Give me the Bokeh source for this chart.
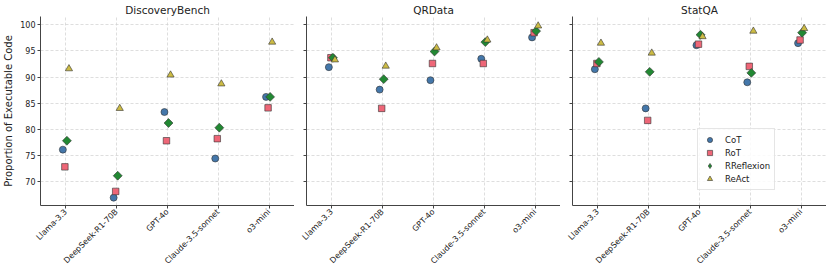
import math
from bokeh.plotting import figure
from bokeh.models import ColumnDataSource, FactorRange, Range1d, Legend, LegendItem, FixedTicker
from bokeh.transform import dodge
from bokeh.layouts import row
from bokeh.embed import file_html
from bokeh.resources import INLINE

models = ["Llama-3.3", "DeepSeek-R1-70B", "GPT-4o", "Claude-3.5-sonnet", "o3-mini"]
methods = ["CoT", "RoT", "RReflexion", "ReAct"]
benchmarks = ["DiscoveryBench", "QRData", "StatQA"]

discovery_cot = [76.1, 66.9, 83.3, 74.4, 86.2]
discovery_rot = [72.8, 68.1, 77.8, 78.2, 84.1]
discovery_rreflexion = [77.8, 71.1, 81.2, 80.3, 86.2]
discovery_react = [91.6, 84.0, 90.4, 88.7, 96.7]

qrdata_cot = [91.9, 87.6, 89.4, 93.5, 97.6]
qrdata_rot = [93.7, 84.0, 92.6, 92.6, 98.5]
qrdata_rreflexion = [93.7, 89.6, 94.9, 96.7, 98.8]
qrdata_react = [93.3, 92.1, 95.6, 97.1, 99.8]

statqa_cot = [91.5, 84.0, 96.1, 89.0, 96.5]
statqa_rot = [92.6, 81.7, 96.3, 92.05, 97.1]
statqa_rreflexion = [92.9, 91.0, 98.1, 90.8, 98.5]
statqa_react = [96.5, 94.6, 97.75, 98.8, 99.3]

y_ticks = [70, 75, 80, 85, 90, 95, 100]

data = {
    "DiscoveryBench": [discovery_cot, discovery_rot, discovery_rreflexion, discovery_react],
    "QRData": [qrdata_cot, qrdata_rot, qrdata_rreflexion, qrdata_react],
    "StatQA": [statqa_cot, statqa_rot, statqa_rreflexion, statqa_react],
}

colors = ["#4477AA", "#EE6677", "#228833", "#CCBB44"]
markers = ["circle", "square", "square", "triangle"]
legend_markers = ["circle", "square", "diamond", "triangle"]
angles = [0, 0, math.pi / 4, 0]
sizes = [7, 6.5, 6.3, 7.2]
offsets = [-0.06, -0.02, 0.02, 0.06]

FONT = "DejaVu Sans"
FW, FH = 254, 189


def make_panel(title, series, first, last):
    p = figure(
        x_range=FactorRange(*models), y_range=Range1d(65.4, 101.6),
        frame_width=FW, frame_height=FH, title=title,
        output_backend="svg", toolbar_location=None,
        min_border_left=0 if first else 12, min_border_right=0,
        min_border_top=0, min_border_bottom=0,
        background_fill_color="white", border_fill_color="white",
    )
    p.outline_line_color = None
    p.title.align = "center"
    p.title.text_font = FONT
    p.title.text_font_style = "normal"
    p.title.text_font_size = "10.5px"
    p.title.text_color = "#222222"
    p.title.standoff = 2

    for ax in (p.xaxis[0], p.yaxis[0]):
        ax.axis_line_color = "#444444"
        ax.axis_line_width = 1
        ax.major_tick_line_color = "#444444"
        ax.major_tick_out = 3
        ax.major_tick_in = 0
        ax.minor_tick_line_color = None
        ax.major_label_text_font = FONT
        ax.major_label_text_font_size = "8px"
        ax.major_label_text_color = "#222222"

    p.xaxis.major_label_orientation = math.pi / 4
    p.xaxis.major_label_standoff = 2
    p.yaxis.ticker = FixedTicker(ticks=y_ticks)
    if first:
        p.yaxis.axis_label = "Proportion of Executable Code"
        p.yaxis.axis_label_text_font = FONT
        p.yaxis.axis_label_text_font_style = "normal"
        p.yaxis.axis_label_text_font_size = "10px"
        p.yaxis.axis_label_text_color = "#222222"
        p.yaxis.axis_label_standoff = 3
        p.yaxis.major_label_standoff = 2
    else:
        p.yaxis.major_label_overrides = {t: "" for t in y_ticks}
        p.yaxis.major_label_standoff = 0

    for g in (p.xgrid[0], p.ygrid[0]):
        g.grid_line_color = "#d0d0d0"
        g.grid_line_dash = "3 2"
        g.grid_line_width = 0.7
    p.ygrid.ticker = FixedTicker(ticks=y_ticks)

    items = []
    for i, m in enumerate(methods):
        src = ColumnDataSource(dict(model=models, val=series[i]))
        xs = dodge("model", offsets[i], range=p.x_range)
        proxy = None
        if markers[i] != legend_markers[i]:
            # legend proxy: a narrow diamond hidden beneath the rotated square
            proxy = p.scatter(x=xs, y="val", source=src, marker=legend_markers[i],
                              size=5.5, fill_color=colors[i], line_color="#333333",
                              line_width=0.6)
        r = p.scatter(
            x=xs, y="val", source=src,
            marker=markers[i], angle=angles[i], size=sizes[i], fill_color=colors[i],
            line_color="#333333", line_width=0.6,
        )
        items.append(LegendItem(label=m, renderers=[proxy if proxy is not None else r]))

    if last:
        leg = Legend(items=items, location=(125, 15))
        leg.label_text_font = FONT
        leg.label_text_font_size = "8.5px"
        leg.label_text_color = "#222222"
        leg.label_height = 13
        leg.glyph_height = 13
        leg.glyph_width = 15
        leg.spacing = 0
        leg.padding = 4
        leg.margin = 0
        leg.label_standoff = 8
        leg.border_line_color = "#cccccc"
        leg.background_fill_alpha = 0.85
        p.add_layout(leg)
    return p


panels = [make_panel(b, data[b], i == 0, i == 2) for i, b in enumerate(benchmarks)]
layout = row(*panels)

open("out.html", "w").write(file_html(layout, INLINE))
